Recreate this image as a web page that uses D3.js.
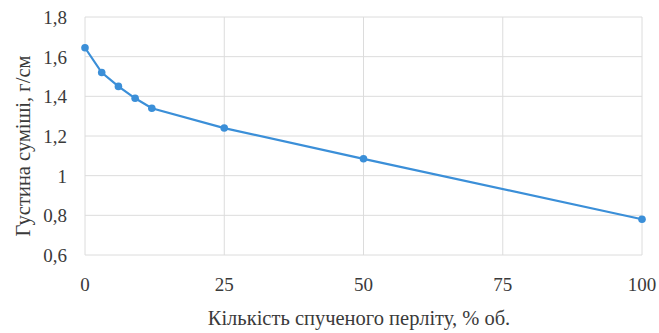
<!DOCTYPE html>
<html><head><meta charset="utf-8">
<script src="https://cdn.jsdelivr.net/npm/d3@7"></script>
</head><body style="margin:0;background:#fff">
<svg id="c" width="659" height="333"></svg>
<script>
const xValues = [0, 3, 6, 9, 12, 25, 50, 100];
const density = [1.645, 1.52, 1.45, 1.39, 1.34, 1.24, 1.085, 0.78];
const xTicks = [0, 25, 50, 75, 100];
const yTicks = [0.6, 0.8, 1.0, 1.2, 1.4, 1.6, 1.8];
const xTitle = "Кількість спученого перліту, % об.";
const yTitle = "Густина суміші, г/см";

const svg = d3.select("#c");
const FAM = "Liberation Serif";
const x = d3.scaleLinear().domain([0, 100]).range([85, 642]);
const y = d3.scaleLinear().domain([0.6, 1.8]).range([255, 17]);
const fmt = v => (Math.abs(v - 1) < 1e-9 ? "1" : d3.format(".1f")(v).replace(".", ","));
const ink = "#3a3a3a";

const g = svg.append("g");
g.selectAll("line.h").data(yTicks).enter().append("line")
  .attr("x1", x(0)).attr("x2", x(100)).attr("y1", d => y(d)).attr("y2", d => y(d))
  .attr("stroke", "#dcdcdc").attr("stroke-width", 1);
g.selectAll("line.v").data(xTicks).enter().append("line")
  .attr("y1", y(0.6)).attr("y2", y(1.8)).attr("x1", d => x(d)).attr("x2", d => x(d))
  .attr("stroke", "#dcdcdc").attr("stroke-width", 1);

svg.selectAll("text.yt").data(yTicks).enter().append("text")
  .attr("x", 67).attr("y", d => y(d) + 7).attr("text-anchor", "end")
  .attr("font-size", 19).attr("font-family", FAM).style("font-family", FAM).attr("fill", ink)
  .text(fmt);
svg.selectAll("text.xt").data(xTicks).enter().append("text")
  .attr("x", d => x(d)).attr("y", 291).attr("text-anchor", "middle")
  .attr("font-size", 19).attr("font-family", FAM).style("font-family", FAM).attr("fill", ink)
  .text(d => d);

svg.append("text").attr("x", 359).attr("y", 325).attr("text-anchor", "middle")
  .attr("font-size", 20.5).attr("font-family", FAM).style("font-family", FAM).attr("fill", ink).text(xTitle);
svg.append("text").attr("transform", "translate(30,146) rotate(-90)").attr("text-anchor", "middle")
  .attr("font-size", 20.5).attr("font-family", FAM).style("font-family", FAM).attr("fill", ink).text(yTitle);

const pts = xValues.map((v, i) => [v, density[i]]);
svg.append("path").datum(pts)
  .attr("d", d3.line().x(d => x(d[0])).y(d => y(d[1])))
  .attr("fill", "none").attr("stroke", "#3b8fd8").attr("stroke-width", 2.2);
svg.selectAll("circle").data(pts).enter().append("circle")
  .attr("cx", d => x(d[0])).attr("cy", d => y(d[1])).attr("r", 3.8)
  .attr("fill", "#3b8fd8");
</script>
</body></html>
